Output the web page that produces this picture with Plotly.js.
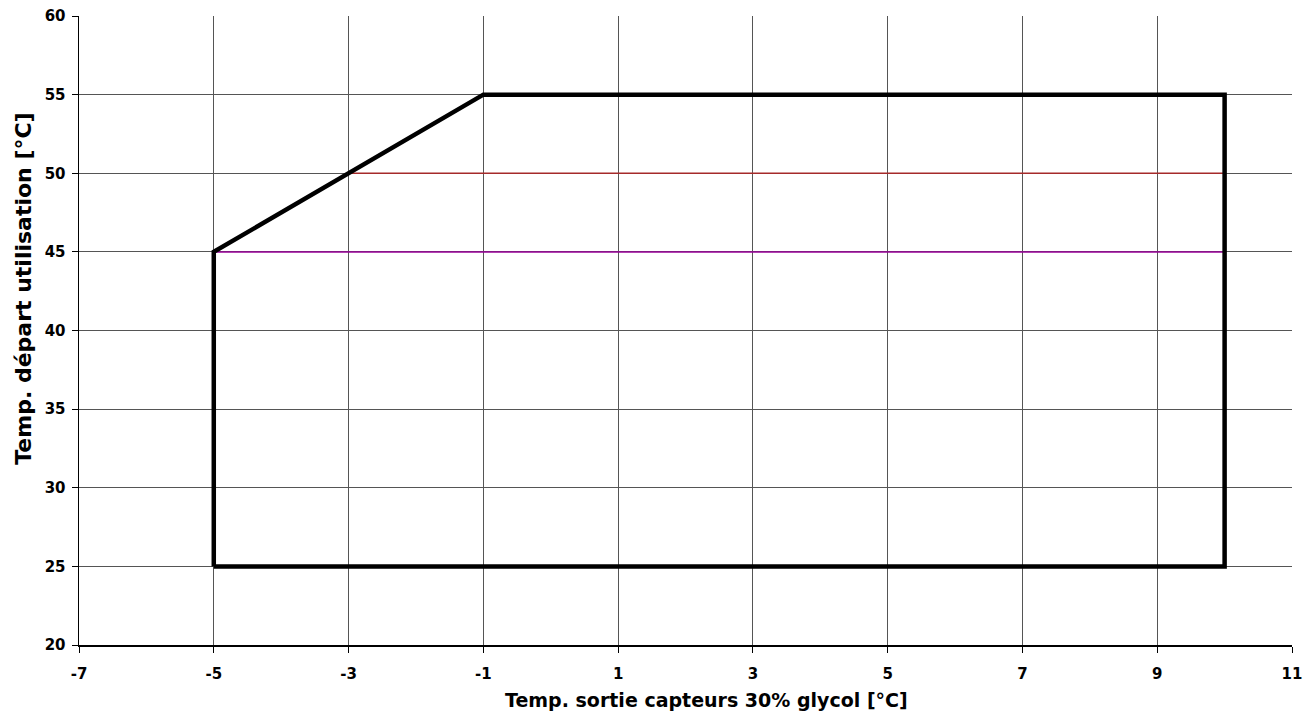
<!DOCTYPE html>
<html><head><meta charset="utf-8">
<script src="https://cdn.plot.ly/plotly-3.0.1.min.js"></script>
<style>html,body{margin:0;padding:0;background:#fff}#c{width:1304px;height:715px}</style>
</head><body><div id="c"></div>
<script>
const envelopeX = [-5, -5, -1, 10, 10, -5];
const envelopeY = [25, 45, 55, 55, 25, 25];
const line50X = [-3, 10];
const line50Y = [50, 50];
const line45X = [-5, 10];
const line45Y = [45, 45];
const xTickVals = [-7, -5, -3, -1, 1, 3, 5, 7, 9, 11];
const xTickText = ['-7', '-5', '-3', '-1', '1', '3', '5', '7', '9', '11'];
const yTickVals = [20, 25, 30, 35, 40, 45, 50, 55, 60];
const yTickText = ['20', '25', '30', '35', '40', '45', '50', '55', '60'];
const xTitle = 'Temp. sortie capteurs 30% glycol [°C]';
const yTitle = 'Temp. départ utilisation [°C]';
const FONT = 'DejaVu Sans';

const traces = [
  {x: line45X, y: line45Y, mode: 'lines', line: {color: '#990099', width: 1.5}, hoverinfo: 'skip'},
  {x: line50X, y: line50Y, mode: 'lines', line: {color: '#A52A2A', width: 1.5}, hoverinfo: 'skip'},
  {x: envelopeX, y: envelopeY, mode: 'lines', line: {color: '#000000', width: 4.5}, hoverinfo: 'skip'}
];
const layout = {
  width: 1304, height: 715, showlegend: false,
  paper_bgcolor: '#fff', plot_bgcolor: '#fff',
  margin: {l: 79, r: 12, t: 16, b: 70},
  font: {family: FONT, color: '#000'},
  xaxis: {range: [-7, 11], tickmode: 'array', tickvals: xTickVals, ticktext: xTickText, showgrid: true, gridcolor: '#555', gridwidth: 1,
    zeroline: false, showline: true, linecolor: '#000', linewidth: 1.5, ticks: 'outside', ticklen: 6, tickcolor: '#000',
    ticklabelstandoff: 8,
    tickfont: {family: FONT, size: 15, weight: 'bold', color: '#000'}},
  yaxis: {range: [20, 60], tickmode: 'array', tickvals: yTickVals, ticktext: yTickText, showgrid: true, gridcolor: '#555', gridwidth: 1,
    zeroline: false, showline: true, linecolor: '#000', linewidth: 1.5, ticks: 'outside', ticklen: 6, tickcolor: '#000',
    ticklabelstandoff: 3,
    tickfont: {family: FONT, size: 15, weight: 'bold', color: '#000'}},
  annotations: [
    {text: xTitle, xref: 'paper', yref: 'paper', x: 0.517, y: -0.087, xanchor: 'center', yanchor: 'middle', showarrow: false,
      font: {family: FONT, size: 19, weight: 'bold', color: '#000'}},
    {text: yTitle, xref: 'paper', yref: 'paper', x: -0.0455, y: 0.566, xanchor: 'center', yanchor: 'middle', showarrow: false, textangle: -90,
      font: {family: FONT, size: 22, weight: 'bold', color: '#000'}}
  ]
};
Plotly.newPlot('c', traces, layout, {displayModeBar: false, staticPlot: true});
</script></body></html>
